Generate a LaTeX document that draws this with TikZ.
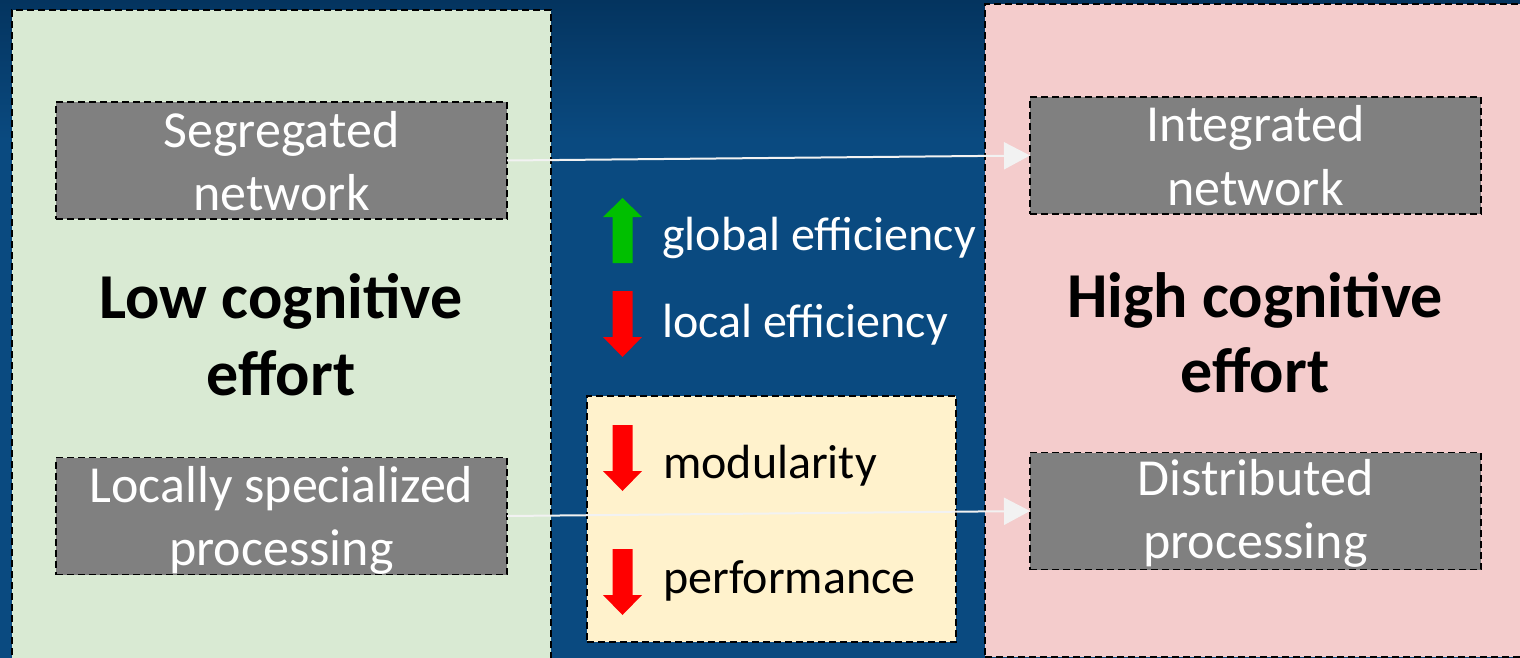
\documentclass[tikz,border=0pt]{standalone}
\usepackage{fontspec}
\setmainfont{Carlito}
\usetikzlibrary{arrows.meta}
\definecolor{bgblue}{HTML}{0A4A80}
\definecolor{bgtop}{HTML}{04345F}
\definecolor{lowfill}{HTML}{D9EAD3}
\definecolor{highfill}{HTML}{F4CCCC}
\definecolor{effill}{HTML}{FFF2CC}
\definecolor{boxgray}{HTML}{808080}
\definecolor{upgreen}{HTML}{00BF00}
\definecolor{downred}{HTML}{FF0000}
\definecolor{linkwhite}{HTML}{F2F2F2}
\begin{document}
\begin{tikzpicture}[x=1pt,y=-1pt,
  dashborder/.style={draw=black, line width=1.9pt, dash pattern=on 7pt off 4pt},
  panel/.style={dashborder, inner sep=0pt, outer sep=0pt},
  graybox/.style={dashborder, fill=boxgray, minimum width=451pt, minimum height=117pt, inner sep=0pt, outer sep=0pt},
  boxtext/.style={text=white, font=\fontsize{52}{63}\selectfont, anchor=base, inner sep=0pt},
  efforttext/.style={text=black, font=\fontsize{64}{78}\selectfont\bfseries, anchor=base, inner sep=0pt},
  whitelabel/.style={text=white, font=\fontsize{48}{58}\selectfont, anchor=base west, inner sep=0pt},
  blacklabel/.style={text=black, font=\fontsize{48}{58}\selectfont, anchor=base west, inner sep=0pt},
  link/.style={draw=linkwhite, line width=2pt, -{Triangle[length=26pt,width=27pt]}},
  pics/uparr/.style={code={\fill[upgreen] (0,0) -- (19.5,19) -- (10,19) -- (10,65) -- (-10,65) -- (-10,19) -- (-19.5,19) -- cycle;}},
  pics/downarr/.style={code={\fill[downred] (0,0) -- (19.5,-20) -- (10,-20) -- (10,-66) -- (-10,-66) -- (-10,-20) -- (-19.5,-20) -- cycle;}}
]
\useasboundingbox (0,0) rectangle (1520,658);
\clip (0,0) rectangle (1520,658);
% background
\fill[bgblue] (0,0) rectangle (1520,658);
\shade[top color=bgtop, bottom color=bgblue] (0,0) rectangle (1520,140);
% panels
\node[panel, fill=lowfill, minimum width=539pt, minimum height=660pt] (lowpanel) at (281.5,340) {};
\node[panel, fill=highfill, minimum width=545pt, minimum height=653pt] (highpanel) at (1257.5,330.5) {};
\node[panel, fill=effill, minimum width=369pt, minimum height=246pt] (effects) at (771.5,519) {};
% gray boxes
\node[graybox] (seg) at (281.5,160.5) {};
\node[graybox] (loc) at (281.5,516) {};
\node[graybox] (integ) at (1255.5,155.5) {};
\node[graybox] (dist) at (1255.5,511) {};
% connectors
\draw[link] (seg.east) -- (integ.west);
\draw[link] (loc.east) -- (dist.west);
% box texts
\node[boxtext] (segA) at (281.5,147) {Segregated};
\node[boxtext] (segB) at (281.5,210) {network};
\node[boxtext] (locA) at (281.5,502) {Locally specialized};
\node[boxtext] (locB) at (281.5,565) {processing};
\node[boxtext] (intA) at (1255.5,142) {Integrated};
\node[boxtext] (intB) at (1255.5,205) {network};
\node[boxtext] (disA) at (1255.5,495) {Distributed};
\node[boxtext] (disB) at (1255.5,558) {processing};
% effort labels
\node[efforttext] (lowA) at (281,318) {Low cognitive};
\node[efforttext] (lowB) at (281,395) {effort};
\node[efforttext] (highA) at (1255,317) {High cognitive};
\node[efforttext] (highB) at (1255,392) {effort};
% block arrows
\pic at (622.5,198) {uparr};
\pic at (622.5,357) {downarr};
\pic at (622.5,491) {downarr};
\pic at (622.5,615) {downarr};
% effect labels
\node[whitelabel] (glob) at (662,250) {global efficiency};
\node[whitelabel] (loceff) at (662,337) {local efficiency};
\node[blacklabel] (mod) at (663,478) {modularity};
\node[blacklabel] (perf) at (663,593) {performance};
\end{tikzpicture}
\end{document}
